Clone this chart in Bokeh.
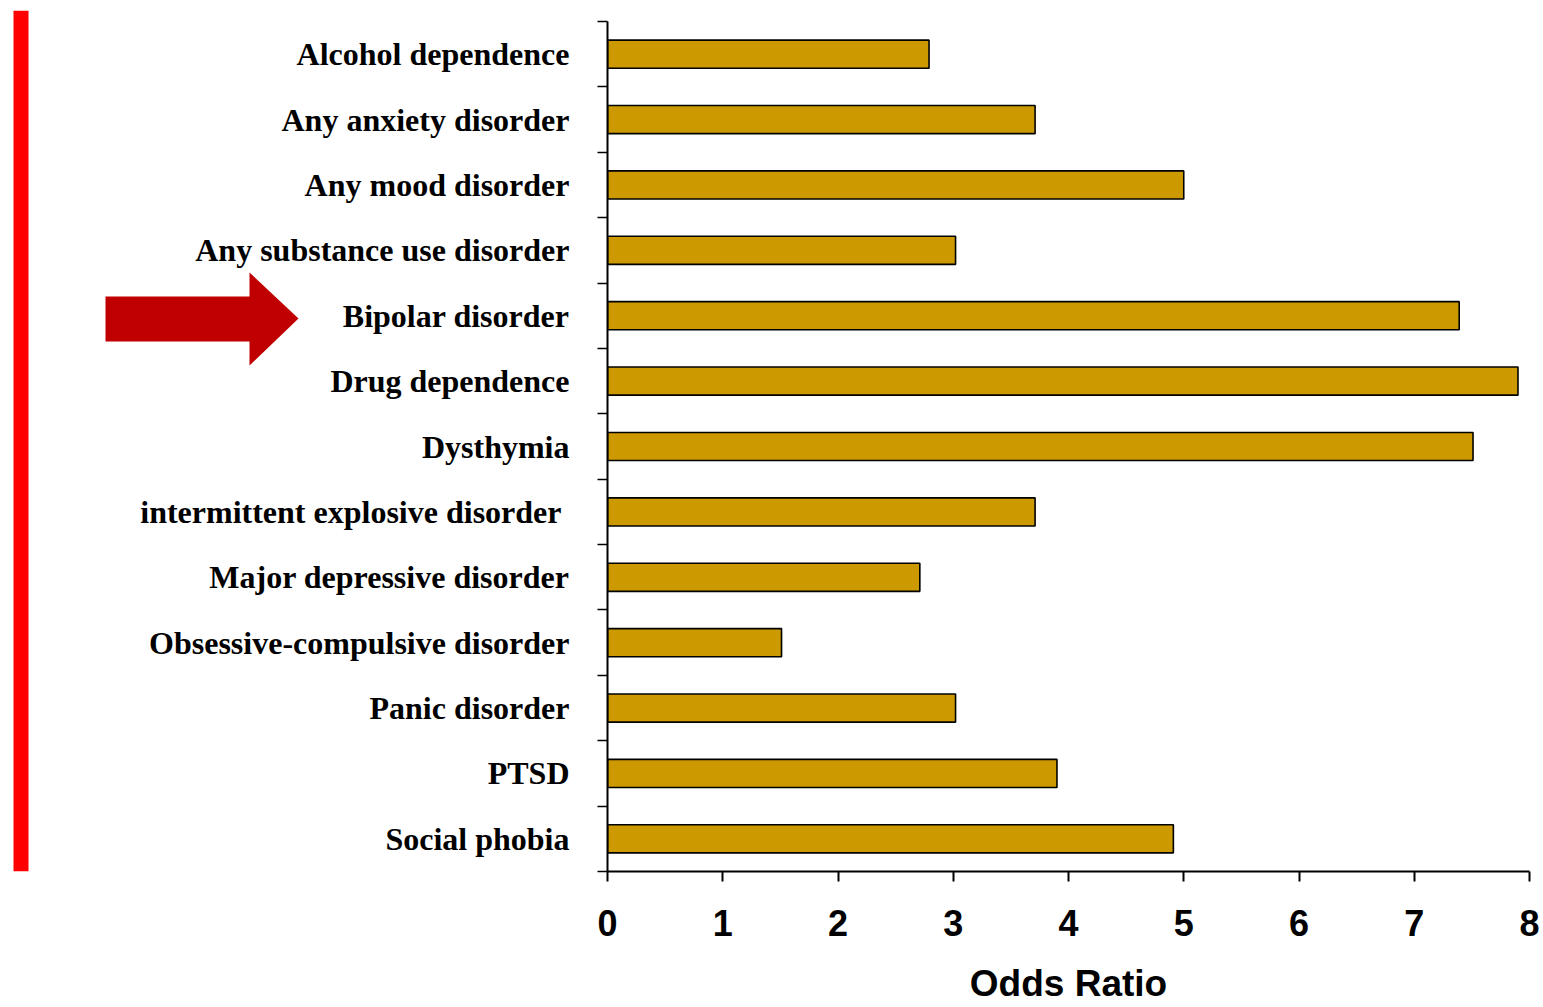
from bokeh.plotting import figure
from bokeh.layouts import row
from bokeh.models import FixedTicker, Range1d
from bokeh.core.properties import value
from bokeh.embed import file_html
from bokeh.resources import INLINE

categories = [
    "Alcohol dependence",
    "Any anxiety disorder",
    "Any mood disorder",
    "Any substance use disorder",
    "Bipolar disorder",
    "Drug dependence",
    "Dysthymia",
    "intermittent  explosive disorder",
    "Major depressive disorder",
    "Obsessive-compulsive disorder",
    "Panic disorder",
    "PTSD",
    "Social phobia",
]
odds_ratios = [2.79, 3.71, 5.0, 3.02, 7.39, 7.90, 7.51, 3.71, 2.71, 1.51, 3.02, 3.90, 4.91]
x_ticks = [0, 1, 2, 3, 4, 5, 6, 7, 8]
x_label = "Odds Ratio"

n = len(categories)
ypos = [n - i - 0.5 for i in range(n)]

H = 1007
TOP = 10            # frame top (red bar starts here)
AXIS_TOP = 21       # top of the y axis line
BOTTOM = 136
LEFT_W = 596

px_per_unit = (H - BOTTOM - AXIS_TOP) / n


def py(pix):
    """canvas pixel row -> data y on the chart's scale"""
    return (H - BOTTOM - pix) / px_per_unit


y_range = Range1d(0, py(TOP))

# ---------------- main chart ----------------
p = figure(width=1543 - LEFT_W, height=H, x_range=Range1d(0, 8), y_range=y_range,
           output_backend="svg", toolbar_location=None, title=None,
           min_border_left=11, min_border_right=14, min_border_top=TOP,
           min_border_bottom=BOTTOM)
p.outline_line_color = None
p.xgrid.visible = False
p.ygrid.visible = False

p.hbar(y=ypos, right=odds_ratios, left=0, height=0.43,
       fill_color="#CC9900", line_color="black", line_width=1.6)

xa = p.xaxis[0]
xa.ticker = FixedTicker(ticks=x_ticks)
xa.major_tick_out = 10
xa.major_tick_in = 0
xa.minor_tick_line_color = None
xa.axis_line_width = 2
xa.major_tick_line_width = 2
xa.major_label_text_font = "Liberation Sans"
xa.major_label_text_font_style = "bold"
xa.major_label_text_font_size = "36px"
xa.major_label_standoff = 28
xa.major_label_text_color = "black"
xa.axis_label = x_label
xa.axis_label_text_font = "Liberation Sans"
xa.axis_label_text_font_style = "bold"
xa.axis_label_text_font_size = "37px"
xa.axis_label_text_color = "black"
xa.axis_label_standoff = 24

ya = p.yaxis[0]
ya.ticker = FixedTicker(ticks=list(range(n + 1)))
ya.bounds = (0, n)
ya.major_label_overrides = {i: "" for i in range(n + 1)}
ya.major_label_text_font_size = "0px"
ya.major_tick_out = 10
ya.major_tick_in = 0
ya.minor_tick_line_color = None
ya.axis_line_width = 2
ya.major_tick_line_width = 1.5
ya.major_label_standoff = 0

# ---------------- left panel: labels and decorations ----------------
q = figure(width=LEFT_W, height=H, x_range=Range1d(0, LEFT_W), y_range=y_range,
           title=None, output_backend="svg", toolbar_location=None,
           x_axis_location=None, y_axis_location=None,
           min_border_left=0, min_border_right=0, min_border_top=TOP,
           min_border_bottom=BOTTOM)
q.outline_line_color = None
q.xgrid.visible = False
q.ygrid.visible = False

q.text(x=569, y=ypos, text=categories, text_align="right", text_baseline="middle",
       text_font=value("Liberation Serif"), text_font_style="bold",
       text_font_size="32px", text_color="black")

# red vertical bar
q.quad(left=13, right=28, top=py(TOP), bottom=py(871), fill_color="#FF0000",
       line_color=None)

# red block arrow
arrow_x = [105, 249, 249, 298, 249, 249, 105]
arrow_y = [296, 296, 272, 318, 365, 341, 341]
q.patch(x=arrow_x, y=[py(v) for v in arrow_y], fill_color="#C00000",
        line_color=None)

layout = row(q, p, spacing=0)
open("out.html", "w").write(file_html(layout, INLINE))
